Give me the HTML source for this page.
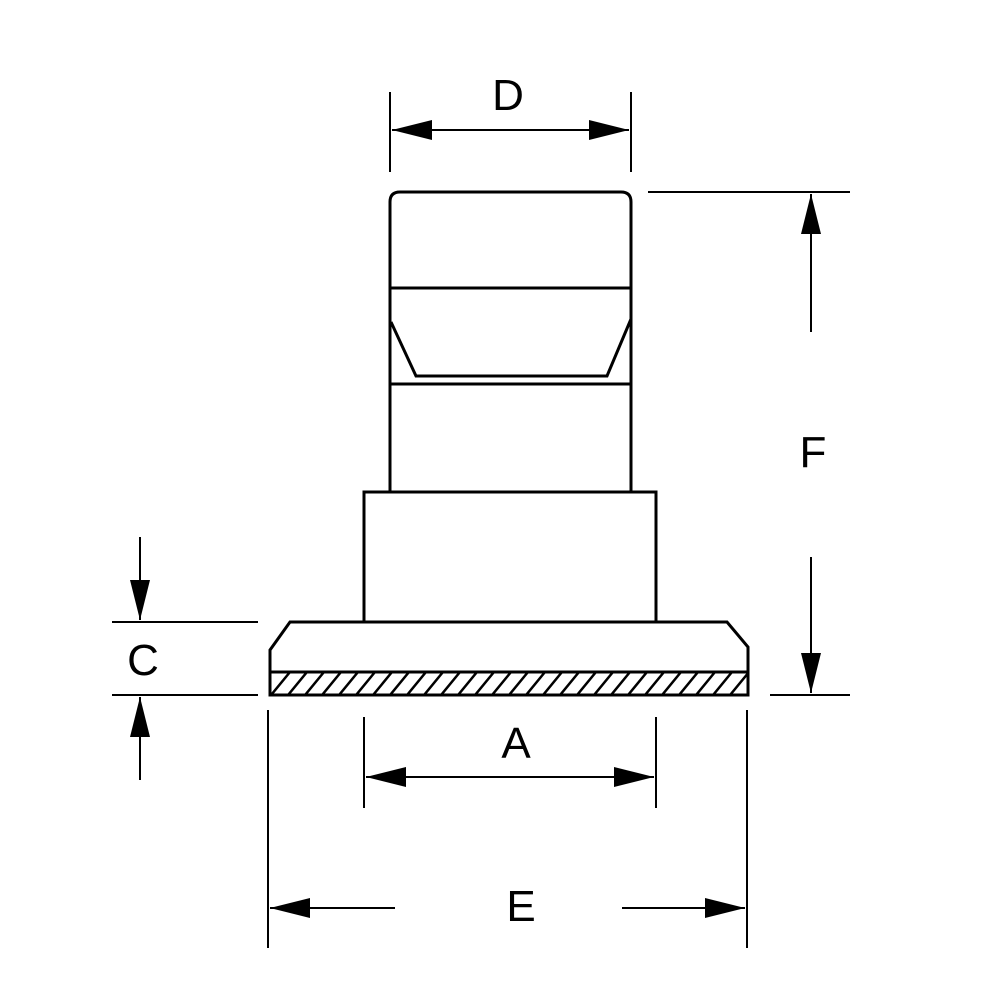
<!DOCTYPE html><html><head><style>body{margin:0;background:#fff}svg{display:block}</style></head><body>
<svg width="1000" height="1000" viewBox="0 0 1000 1000" xmlns="http://www.w3.org/2000/svg">
<defs>
<clipPath id="hc"><rect x="270" y="672" width="478" height="23"/></clipPath>
<marker id="ar" viewBox="0 0 40 20" refX="40" refY="10" markerWidth="40" markerHeight="20" markerUnits="userSpaceOnUse" orient="auto"><path d="M0,0 L40,10 L0,20 Z" fill="#000"/></marker>
</defs>
<g fill="none" stroke="#000" stroke-width="3">
<path d="M390,491 L390,202 Q390,192 400,192 L621,192 Q631,192 631,202 L631,491"/>
<line x1="390" y1="288" x2="631" y2="288"/>
<path d="M391,322 L416,376 L607,376 L631,319"/>
<line x1="390" y1="384" x2="631" y2="384"/>
<rect x="364" y="492" width="292" height="130"/>
<path d="M270,695 L270,650 L290,622 L727,622 L748,647 L748,695 Z"/>
<line x1="270" y1="672" x2="748" y2="672"/>
<g clip-path="url(#hc)" stroke-width="2.5">
<path d="M267,700 l23,-28 M284,700 l23,-28 M301,700 l23,-28 M318,700 l23,-28 M335,700 l23,-28 M352,700 l23,-28 M369,700 l23,-28 M386,700 l23,-28 M403,700 l23,-28 M420,700 l23,-28 M437,700 l23,-28 M454,700 l23,-28 M471,700 l23,-28 M488,700 l23,-28 M505,700 l23,-28 M522,700 l23,-28 M539,700 l23,-28 M556,700 l23,-28 M573,700 l23,-28 M590,700 l23,-28 M607,700 l23,-28 M624,700 l23,-28 M641,700 l23,-28 M658,700 l23,-28 M675,700 l23,-28 M692,700 l23,-28 M709,700 l23,-28 M726,700 l23,-28 M743,700 l23,-28"/>
</g>
</g>
<g fill="none" stroke="#000" stroke-width="2">
<line x1="390" y1="92" x2="390" y2="172"/><line x1="631" y1="92" x2="631" y2="172"/>
<line x1="510" y1="130" x2="392" y2="130" marker-end="url(#ar)"/><line x1="510" y1="130" x2="629" y2="130" marker-end="url(#ar)"/>
<line x1="648" y1="192" x2="850" y2="192"/><line x1="770" y1="695" x2="850" y2="695"/>
<line x1="811" y1="332" x2="811" y2="194" marker-end="url(#ar)"/><line x1="811" y1="557" x2="811" y2="693" marker-end="url(#ar)"/>
<line x1="112" y1="622" x2="258" y2="622"/><line x1="112" y1="695" x2="258" y2="695"/>
<line x1="140" y1="537" x2="140" y2="620" marker-end="url(#ar)"/><line x1="140" y1="780" x2="140" y2="697" marker-end="url(#ar)"/>
<line x1="364" y1="717" x2="364" y2="808"/><line x1="656" y1="717" x2="656" y2="808"/>
<line x1="510" y1="777" x2="366" y2="777" marker-end="url(#ar)"/><line x1="510" y1="777" x2="654" y2="777" marker-end="url(#ar)"/>
<line x1="268" y1="710" x2="268" y2="948"/><line x1="747" y1="710" x2="747" y2="948"/>
<line x1="395" y1="908" x2="270" y2="908" marker-end="url(#ar)"/><line x1="622" y1="908" x2="745" y2="908" marker-end="url(#ar)"/>
</g>
<g font-family="Liberation Sans, sans-serif" font-size="44" text-anchor="middle" fill="#000">
<text x="508" y="110">D</text>
<text x="813" y="467">F</text>
<text x="143" y="675">C</text>
<text x="516" y="758">A</text>
<text x="521" y="921">E</text>
</g>
</svg>
</body></html>
